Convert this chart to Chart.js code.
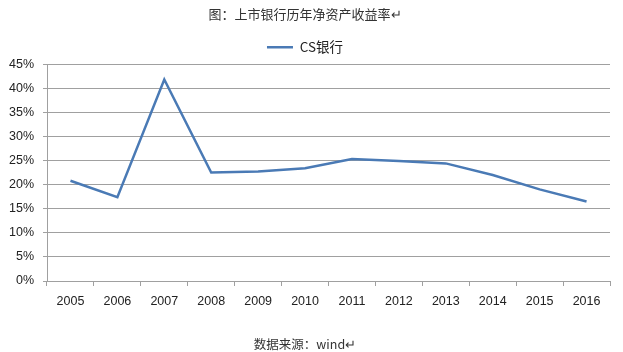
<!DOCTYPE html>
<html>
<head>
<meta charset="utf-8">
<script src="https://cdn.jsdelivr.net/npm/chart.js@4"></script>
<style>
  html, body { margin: 0; padding: 0; background: #fff; }
  #wrap { width: 623px; height: 352px; }
</style>
</head>
<body>
<div id="wrap"><canvas id="roeChart"></canvas></div>
<script>
// 上市银行历年净资产收益率 (%)
const years = ['2005', '2006', '2007', '2008', '2009', '2010', '2011', '2012', '2013', '2014', '2015', '2016'];
const csBank = [20.8, 17.4, 41.8, 22.5, 22.7, 23.4, 25.3, 24.9, 24.4, 22.0, 19.0, 16.5];
const yTicks = [0, 5, 10, 15, 20, 25, 30, 35, 40, 45];

const tickFont = { family: "'Liberation Sans', Arial, sans-serif", size: 12.5 };
const cjkFont = "'Noto Sans CJK SC', sans-serif";
const gridColor = '#a0a0a0';

new Chart(document.getElementById('roeChart'), {
  type: 'line',
  data: {
    labels: years,
    datasets: [{
      label: 'CS银行',
      data: csBank,
      borderColor: '#4a7ab5',
      backgroundColor: '#4a7ab5',
      borderWidth: 2.5,
      pointRadius: 0,
      tension: 0,
      pointStyle: 'line'
    }]
  },
  options: {
    responsive: true,
    maintainAspectRatio: false,
    animation: false,
    layout: { padding: { left: 0, right: 13, top: 2, bottom: 0 } },
    plugins: {
      title: {
        display: true,
        text: '图：上市银行历年净资产收益率↵',
        color: '#333',
        font: { family: cjkFont, size: 13, weight: 'normal' },
        padding: { top: 4, bottom: 11 }
      },
      subtitle: {
        display: true,
        position: 'bottom',
        text: '数据来源：wind↵',
        color: '#333',
        font: { family: cjkFont, size: 12.5, weight: 'normal' },
        padding: { top: 20, bottom: 0 }
      },
      legend: {
        position: 'top',
        labels: {
          usePointStyle: true,
          pointStyleWidth: 26,
          color: '#222',
          font: { family: cjkFont, size: 13.5 },
          padding: 8
        }
      },
      tooltip: { enabled: false }
    },
    scales: {
      x: {
        offset: true,
        grid: {
          offset: true,
          drawOnChartArea: false,
          drawTicks: true,
          tickLength: 5,
          color: gridColor
        },
        border: { color: gridColor },
        ticks: { color: '#222', font: tickFont, padding: 8, maxRotation: 0 }
      },
      y: {
        min: 0,
        max: 45,
        afterBuildTicks: axis => { axis.ticks = yTicks.map(v => ({ value: v })); },
        afterFit: axis => { axis.width = 47; },
        grid: { color: gridColor, tickLength: 4 },
        border: { color: gridColor },
        ticks: {
          color: '#222',
          font: tickFont,
          padding: 9,
          callback: v => v + '%'
        }
      }
    }
  }
});
</script>
</body>
</html>
